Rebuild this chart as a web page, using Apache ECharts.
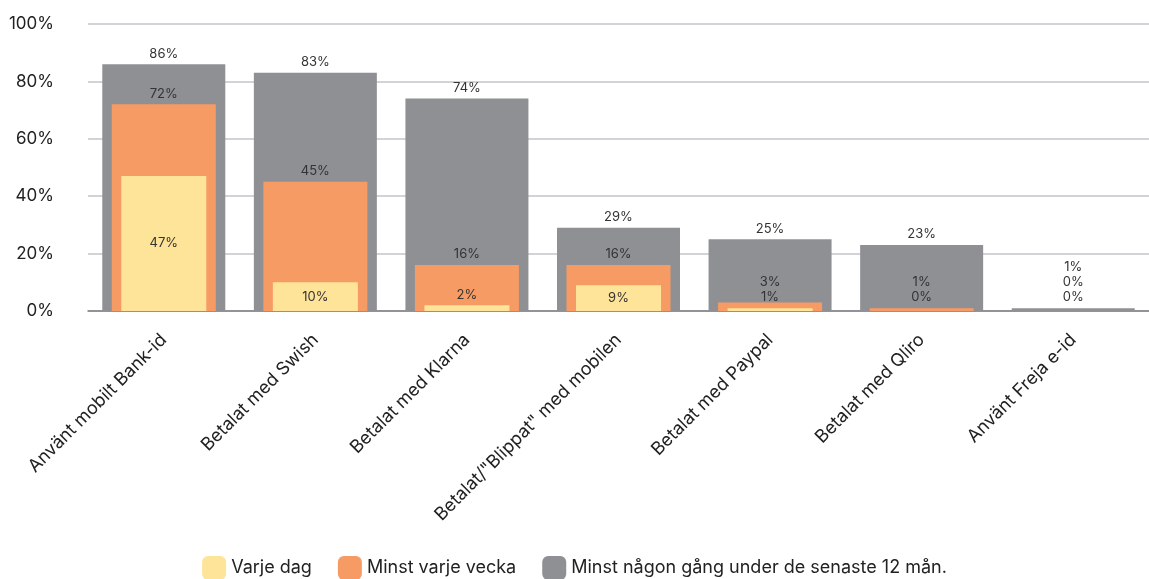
<!DOCTYPE html>
<html>
<head>
<meta charset="utf-8">
<script src="https://cdn.jsdelivr.net/npm/echarts@6/dist/echarts.min.js"></script>
<style>html,body{margin:0;padding:0;background:#fff}#c{width:1149px;height:579px}</style>
</head>
<body>
<div id="c"></div>
<script>
const categories = ["Använt mobilt Bank-id","Betalat med Swish","Betalat med Klarna","Betalat/\"Blippat\" med mobilen","Betalat med Paypal","Betalat med Qliro","Använt Freja e-id"];
const seriesNames = ["Varje dag","Minst varje vecka","Minst någon gång under de senaste 12 mån."];
const dailyValues = [47,10,2,9,1,0,0];
const weeklyValues = [72,45,16,16,3,1,0];
const yearlyValues = [86,83,74,29,25,23,1];
const yTicks = [0,20,40,60,80,100];

const FONT = 'Inter';
const GRID_TOP = 24, GRID_H = 287;
const k = GRID_H / 100;
const LABEL_HALF = 6.5, LINE = 15, GAP = 4;

// compute label placement (stacked, avoiding overlap)
const dailyLabels = [], weeklyLabels = [], yearlyLabels = [];
categories.forEach((c, i) => {
  let prev = -Infinity;
  const d = dailyValues[i];
  if (d >= 5) {
    dailyLabels.push({position: 'inside'});
  } else {
    const top = d * k;
    const center = Math.max(top + GAP + LABEL_HALF, 14);
    dailyLabels.push({position: 'top', distance: center - top - LABEL_HALF});
    prev = center;
  }
  [[weeklyValues, weeklyLabels], [yearlyValues, yearlyLabels]].forEach(([vals, out]) => {
    const top = vals[i] * k;
    const center = Math.max(top + GAP + LABEL_HALF, prev + LINE);
    out.push({position: 'top', distance: center - top - LABEL_HALF});
    prev = center;
  });
});

const labelStyle = {show: true, color: '#333', fontFamily: FONT, fontSize: 13, formatter: '{c}%'};

function mkData(vals, labels) {
  return vals.map((v, i) => ({value: v, label: labels[i]}));
}

const chart = echarts.init(document.getElementById('c'), null, {renderer: 'canvas'});
chart.setOption({
  animation: false,
  textStyle: {fontFamily: FONT},
  grid: {left: 88, right: 0, top: GRID_TOP, height: GRID_H, containLabel: false},
  legend: {
    data: seriesNames,
    left: 'center', top: 556, padding: 0,
    itemWidth: 24, itemHeight: 24, itemGap: 26,
    icon: 'roundRect',
    textStyle: {fontFamily: FONT, fontSize: 18, color: '#222'}
  },
  xAxis: [
    {type: 'category', data: categories, axisTick: {show: false},
     axisLine: {lineStyle: {color: '#7d7f84', width: 1.5}},
     axisLabel: {rotate: 45, margin: 26, fontFamily: FONT, fontSize: 18, color: '#222', interval: 0}},
    {type: 'category', data: categories, show: false},
    {type: 'category', data: categories, show: false}
  ],
  yAxis: {
    type: 'value', min: 0, max: 100, interval: 20,
    axisLine: {show: false}, axisTick: {show: false},
    splitLine: {lineStyle: {color: '#c3c4c8', width: 1.5}},
    axisLabel: {margin: 34, fontFamily: FONT, fontSize: 17, color: '#222', formatter: '{value}%'}
  },
  series: [
    {name: seriesNames[2], type: 'bar', xAxisIndex: 0, barWidth: 123, z: 2,
     itemStyle: {color: '#8e9094'}, label: labelStyle, data: mkData(yearlyValues, yearlyLabels)},
    {name: seriesNames[1], type: 'bar', xAxisIndex: 1, barWidth: 104, z: 3,
     itemStyle: {color: '#f79b65'}, label: labelStyle, data: mkData(weeklyValues, weeklyLabels)},
    {name: seriesNames[0], type: 'bar', xAxisIndex: 2, barWidth: 85, z: 4,
     itemStyle: {color: '#fee498'}, label: labelStyle, data: mkData(dailyValues, dailyLabels)}
  ]
});
</script>
</body>
</html>
